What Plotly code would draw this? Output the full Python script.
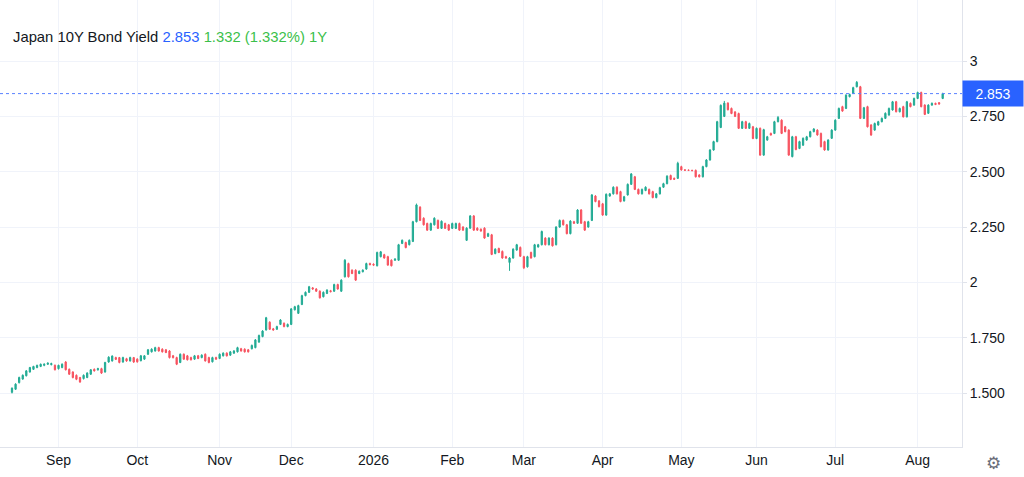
import pandas as pd
import plotly.graph_objects as go

# daily JGB 10Y candles, Aug 13 2025 .. Aug 12 2026 (weekdays)
dates = pd.bdate_range("2025-08-13", "2026-08-12")

opens = [
    1.503, 1.517, 1.547, 1.563, 1.578, 1.595, 1.607, 1.615, 1.620, 1.625,
    1.630, 1.628, 1.625, 1.610, 1.615, 1.640, 1.607, 1.595, 1.580, 1.570,
    1.565, 1.570, 1.585, 1.607, 1.605, 1.610, 1.595, 1.640, 1.645, 1.660,
    1.660, 1.640, 1.655, 1.645, 1.660, 1.653, 1.646, 1.653, 1.675, 1.686,
    1.690, 1.705, 1.698, 1.695, 1.690, 1.668, 1.660, 1.638, 1.675, 1.668,
    1.660, 1.653, 1.668, 1.660, 1.675, 1.660, 1.641, 1.660, 1.656, 1.668,
    1.680, 1.671, 1.680, 1.686, 1.700, 1.698, 1.695, 1.700, 1.705, 1.730,
    1.755, 1.785, 1.820, 1.790, 1.788, 1.810, 1.815, 1.800, 1.810, 1.876,
    1.860, 1.900, 1.940, 1.955, 1.975, 1.970, 1.960, 1.935, 1.950, 1.962,
    1.960, 1.990, 1.960, 2.025, 2.085, 2.055, 2.055, 2.040, 2.048, 2.060,
    2.085, 2.082, 2.075, 2.116, 2.125, 2.116, 2.100, 2.100, 2.100, 2.176,
    2.180, 2.170, 2.185, 2.274, 2.340, 2.290, 2.266, 2.236, 2.260, 2.280,
    2.244, 2.266, 2.260, 2.244, 2.244, 2.266, 2.250, 2.190, 2.245, 2.300,
    2.245, 2.240, 2.245, 2.208, 2.215, 2.130, 2.153, 2.140, 2.116, 2.090,
    2.110, 2.146, 2.158, 2.116, 2.070, 2.135, 2.116, 2.160, 2.170, 2.200,
    2.170, 2.200, 2.170, 2.250, 2.280, 2.260, 2.220, 2.274, 2.267, 2.327,
    2.274, 2.250, 2.280, 2.390, 2.368, 2.355, 2.304, 2.390, 2.400, 2.430,
    2.410, 2.368, 2.395, 2.443, 2.477, 2.420, 2.400, 2.415, 2.420, 2.410,
    2.383, 2.400, 2.430, 2.446, 2.483, 2.470, 2.470, 2.523, 2.508, 2.507,
    2.506, 2.506, 2.485, 2.477, 2.523, 2.553, 2.598, 2.636, 2.700, 2.750,
    2.810, 2.786, 2.770, 2.763, 2.696, 2.726, 2.696, 2.703, 2.650, 2.696,
    2.575, 2.643, 2.673, 2.673, 2.726, 2.733, 2.703, 2.688, 2.568, 2.658,
    2.605, 2.620, 2.643, 2.658, 2.681, 2.688, 2.673, 2.636, 2.598, 2.651,
    2.688, 2.741, 2.794, 2.786, 2.839, 2.854, 2.884, 2.884, 2.741, 2.794,
    2.711, 2.688, 2.711, 2.726, 2.741, 2.756, 2.779, 2.816, 2.771, 2.794,
    2.748, 2.809, 2.801, 2.831, 2.858, 2.801, 2.764, 2.801, 2.809, 2.812,
    2.831,
]
highs = [
    1.525, 1.544, 1.574, 1.584, 1.604, 1.618, 1.623, 1.628, 1.633, 1.634,
    1.638, 1.637, 1.629, 1.628, 1.634, 1.644, 1.611, 1.598, 1.584, 1.573,
    1.584, 1.594, 1.608, 1.611, 1.614, 1.614, 1.641, 1.666, 1.670, 1.664,
    1.663, 1.664, 1.659, 1.664, 1.663, 1.657, 1.672, 1.671, 1.699, 1.702,
    1.709, 1.709, 1.702, 1.699, 1.694, 1.672, 1.664, 1.679, 1.679, 1.672,
    1.664, 1.672, 1.672, 1.675, 1.679, 1.664, 1.664, 1.664, 1.679, 1.684,
    1.684, 1.690, 1.694, 1.709, 1.704, 1.702, 1.699, 1.719, 1.744, 1.764,
    1.784, 1.844, 1.824, 1.794, 1.804, 1.834, 1.819, 1.814, 1.884, 1.894,
    1.899, 1.944, 1.959, 1.984, 1.979, 1.974, 1.964, 1.959, 1.969, 1.966,
    1.994, 1.994, 2.014, 2.105, 2.089, 2.059, 2.059, 2.054, 2.059, 2.089,
    2.089, 2.086, 2.139, 2.142, 2.129, 2.120, 2.104, 2.109, 2.174, 2.194,
    2.184, 2.194, 2.278, 2.356, 2.344, 2.294, 2.270, 2.270, 2.294, 2.284,
    2.280, 2.270, 2.264, 2.270, 2.270, 2.270, 2.254, 2.249, 2.304, 2.304,
    2.249, 2.244, 2.249, 2.224, 2.219, 2.154, 2.157, 2.144, 2.120, 2.114,
    2.154, 2.174, 2.162, 2.120, 2.120, 2.139, 2.174, 2.174, 2.234, 2.204,
    2.204, 2.204, 2.254, 2.284, 2.284, 2.264, 2.281, 2.278, 2.331, 2.331,
    2.278, 2.278, 2.399, 2.394, 2.372, 2.359, 2.402, 2.404, 2.434, 2.434,
    2.414, 2.391, 2.447, 2.494, 2.481, 2.424, 2.424, 2.434, 2.424, 2.414,
    2.404, 2.432, 2.450, 2.484, 2.487, 2.474, 2.545, 2.527, 2.511, 2.510,
    2.509, 2.510, 2.489, 2.527, 2.557, 2.602, 2.640, 2.730, 2.804, 2.820,
    2.814, 2.790, 2.774, 2.767, 2.730, 2.730, 2.722, 2.707, 2.700, 2.700,
    2.694, 2.662, 2.677, 2.730, 2.752, 2.737, 2.707, 2.692, 2.662, 2.662,
    2.640, 2.655, 2.662, 2.685, 2.697, 2.692, 2.677, 2.640, 2.647, 2.692,
    2.737, 2.790, 2.798, 2.850, 2.853, 2.884, 2.910, 2.888, 2.793, 2.798,
    2.715, 2.722, 2.730, 2.745, 2.768, 2.790, 2.820, 2.820, 2.790, 2.798,
    2.820, 2.813, 2.835, 2.862, 2.862, 2.805, 2.805, 2.813, 2.812, 2.815,
    2.857,
]
lows = [
    1.498, 1.514, 1.543, 1.560, 1.575, 1.592, 1.604, 1.612, 1.617, 1.621,
    1.627, 1.625, 1.602, 1.606, 1.612, 1.602, 1.582, 1.566, 1.558, 1.546,
    1.561, 1.567, 1.582, 1.597, 1.601, 1.586, 1.592, 1.637, 1.642, 1.649,
    1.634, 1.637, 1.641, 1.642, 1.636, 1.637, 1.643, 1.650, 1.672, 1.683,
    1.687, 1.687, 1.683, 1.680, 1.656, 1.656, 1.626, 1.635, 1.650, 1.647,
    1.647, 1.650, 1.653, 1.657, 1.642, 1.634, 1.638, 1.650, 1.653, 1.665,
    1.665, 1.668, 1.677, 1.683, 1.687, 1.683, 1.683, 1.697, 1.702, 1.727,
    1.752, 1.782, 1.785, 1.782, 1.785, 1.807, 1.797, 1.797, 1.807, 1.873,
    1.857, 1.897, 1.937, 1.952, 1.967, 1.957, 1.927, 1.932, 1.947, 1.955,
    1.957, 1.967, 1.957, 2.022, 2.022, 2.037, 2.007, 2.037, 2.045, 2.057,
    2.077, 2.075, 2.072, 2.113, 2.107, 2.075, 2.072, 2.097, 2.097, 2.173,
    2.154, 2.167, 2.182, 2.271, 2.277, 2.257, 2.233, 2.233, 2.257, 2.241,
    2.241, 2.241, 2.233, 2.241, 2.241, 2.233, 2.233, 2.187, 2.242, 2.233,
    2.233, 2.229, 2.197, 2.205, 2.123, 2.127, 2.132, 2.107, 2.107, 2.052,
    2.107, 2.143, 2.115, 2.060, 2.067, 2.107, 2.113, 2.157, 2.167, 2.167,
    2.167, 2.162, 2.167, 2.247, 2.257, 2.217, 2.217, 2.264, 2.264, 2.264,
    2.233, 2.247, 2.277, 2.362, 2.339, 2.301, 2.301, 2.387, 2.397, 2.397,
    2.362, 2.365, 2.392, 2.440, 2.417, 2.397, 2.397, 2.412, 2.397, 2.380,
    2.380, 2.397, 2.427, 2.443, 2.462, 2.463, 2.467, 2.505, 2.504, 2.503,
    2.502, 2.474, 2.474, 2.474, 2.520, 2.550, 2.595, 2.633, 2.697, 2.747,
    2.777, 2.760, 2.747, 2.693, 2.693, 2.693, 2.693, 2.647, 2.647, 2.572,
    2.572, 2.640, 2.663, 2.670, 2.723, 2.670, 2.678, 2.572, 2.565, 2.597,
    2.602, 2.617, 2.640, 2.655, 2.678, 2.663, 2.610, 2.595, 2.595, 2.648,
    2.685, 2.738, 2.771, 2.783, 2.836, 2.851, 2.881, 2.738, 2.738, 2.700,
    2.662, 2.685, 2.708, 2.723, 2.738, 2.753, 2.776, 2.768, 2.768, 2.745,
    2.745, 2.791, 2.798, 2.828, 2.791, 2.756, 2.761, 2.798, 2.801, 2.803,
    2.828,
]
closes = [
    1.522, 1.540, 1.570, 1.580, 1.600, 1.615, 1.620, 1.625, 1.630, 1.630,
    1.635, 1.633, 1.605, 1.625, 1.630, 1.605, 1.585, 1.570, 1.562, 1.550,
    1.580, 1.590, 1.605, 1.600, 1.610, 1.590, 1.638, 1.662, 1.667, 1.652,
    1.638, 1.660, 1.645, 1.660, 1.640, 1.641, 1.668, 1.668, 1.695, 1.698,
    1.705, 1.690, 1.686, 1.683, 1.660, 1.660, 1.630, 1.675, 1.653, 1.650,
    1.650, 1.668, 1.656, 1.671, 1.645, 1.638, 1.660, 1.653, 1.675, 1.680,
    1.668, 1.686, 1.690, 1.705, 1.690, 1.686, 1.686, 1.715, 1.740, 1.760,
    1.780, 1.840, 1.788, 1.785, 1.800, 1.830, 1.800, 1.810, 1.880, 1.890,
    1.895, 1.940, 1.955, 1.980, 1.970, 1.960, 1.930, 1.955, 1.965, 1.958,
    1.990, 1.970, 2.010, 2.100, 2.025, 2.040, 2.010, 2.050, 2.055, 2.085,
    2.080, 2.078, 2.135, 2.138, 2.110, 2.078, 2.075, 2.105, 2.170, 2.190,
    2.157, 2.190, 2.274, 2.350, 2.280, 2.260, 2.236, 2.266, 2.290, 2.244,
    2.276, 2.244, 2.236, 2.266, 2.266, 2.236, 2.236, 2.245, 2.300, 2.236,
    2.236, 2.232, 2.200, 2.220, 2.126, 2.150, 2.135, 2.110, 2.110, 2.110,
    2.150, 2.170, 2.118, 2.066, 2.116, 2.110, 2.170, 2.170, 2.230, 2.170,
    2.200, 2.165, 2.250, 2.280, 2.260, 2.220, 2.277, 2.267, 2.327, 2.267,
    2.236, 2.274, 2.395, 2.365, 2.342, 2.304, 2.398, 2.400, 2.430, 2.400,
    2.365, 2.387, 2.443, 2.490, 2.420, 2.400, 2.420, 2.430, 2.400, 2.383,
    2.400, 2.428, 2.446, 2.480, 2.465, 2.466, 2.538, 2.508, 2.507, 2.506,
    2.505, 2.477, 2.477, 2.523, 2.553, 2.598, 2.636, 2.726, 2.800, 2.810,
    2.780, 2.763, 2.750, 2.696, 2.726, 2.696, 2.718, 2.650, 2.696, 2.575,
    2.690, 2.658, 2.666, 2.726, 2.745, 2.673, 2.681, 2.575, 2.658, 2.600,
    2.636, 2.651, 2.658, 2.681, 2.693, 2.666, 2.613, 2.598, 2.643, 2.688,
    2.733, 2.786, 2.774, 2.846, 2.849, 2.880, 2.904, 2.741, 2.789, 2.703,
    2.666, 2.718, 2.726, 2.741, 2.764, 2.786, 2.816, 2.771, 2.786, 2.748,
    2.816, 2.794, 2.831, 2.858, 2.794, 2.759, 2.801, 2.809, 2.804, 2.806,
    2.853,
]

last_value = 2.853
month_ticks = ["2025-09-01", "2025-10-01", "2025-11-03", "2025-12-01", "2026-01-01",
               "2026-02-02", "2026-03-02", "2026-04-01", "2026-05-01", "2026-06-01",
               "2026-07-01", "2026-08-03"]
month_labels = ["Sep", "Oct", "Nov", "Dec", "2026", "Feb", "Mar", "Apr", "May",
                "Jun", "Jul", "Aug"]
y_ticks = [1.5, 1.75, 2.0, 2.25, 2.5, 2.75, 3.0]
y_labels = ["1.500", "1.750", "2", "2.250", "2.500", "2.750", "3"]

UP = "#22ab94"
DOWN = "#f7525f"
BLUE = "#2962ff"
GRID = "#f0f3fa"
AXIS = "#e0e3eb"
FONT = "Liberation Sans, Arial, sans-serif"

fig = go.Figure(go.Candlestick(
    x=dates, open=opens, high=highs, low=lows, close=closes,
    increasing=dict(line=dict(color=UP, width=1), fillcolor=UP),
    decreasing=dict(line=dict(color=DOWN, width=1), fillcolor=DOWN),
    whiskerwidth=0,
    hoverinfo="x+y",
))

# last price dotted line
fig.add_shape(type="line", xref="paper", x0=0, x1=1, y0=last_value, y1=last_value,
              line=dict(color="#5a82ff", width=1, dash="dot"))

fig.add_annotation(
    xref="paper", yref="y", x=1, y=last_value, xanchor="left", yanchor="middle",
    text=f"{last_value:.3f}", showarrow=False, bgcolor=BLUE,
    font=dict(color="white", size=14, family=FONT),
    width=56, height=21, borderpad=2,
)

fig.add_annotation(
    xref="paper", yref="paper", x=0.0114, y=0.917, xanchor="left", yanchor="middle",
    showarrow=False, align="left",
    text=("Japan 10Y Bond Yield "
          f"<span style='color:{BLUE}'>{last_value:.3f}</span> "
          "<span style='color:#3bbf4a'>1.332 (1.332%) 1Y</span>"),
    font=dict(color="#131722", size=14.8, family=FONT),
)

# settings gear
fig.add_annotation(
    xref="paper", yref="paper", x=1.0325, y=-0.036, xanchor="center", yanchor="middle",
    text="\u2699", showarrow=False, font=dict(color="#6a6d78", size=17, family="DejaVu Sans"),
)

fig.update_layout(
    width=1024, height=477,
    margin=dict(l=0, r=62, t=0, b=30),
    paper_bgcolor="white", plot_bgcolor="white",
    showlegend=False,
    boxgap=0.5,
    font=dict(family=FONT, size=14, color="#131722"),
    xaxis=dict(
        rangeslider=dict(visible=False),
        rangebreaks=[dict(bounds=["sat", "mon"])],
        range=["2025-08-07 15:36", "2026-08-19 09:36"],
        tickvals=month_ticks, ticktext=month_labels,
        showgrid=True, gridcolor=GRID, gridwidth=1,
        showline=True, linecolor=AXIS, linewidth=1,
        ticks="", zeroline=False,
        tickfont=dict(size=14, color="#131722"),
    ),
    yaxis=dict(
        side="right", range=[1.256, 3.276],
        tickvals=y_ticks, ticktext=y_labels,
        showgrid=True, gridcolor=GRID, gridwidth=1,
        showline=True, linecolor=AXIS, linewidth=1,
        ticks="outside", ticklen=4, tickcolor=AXIS, zeroline=False,
        tickfont=dict(size=14, color="#131722"),
    ),
)

# drop the default page margin so the chart sits at the window's corner
fig.write_html("out.html", config={"displayModeBar": False},
               post_script="document.body.style.margin='0';")
